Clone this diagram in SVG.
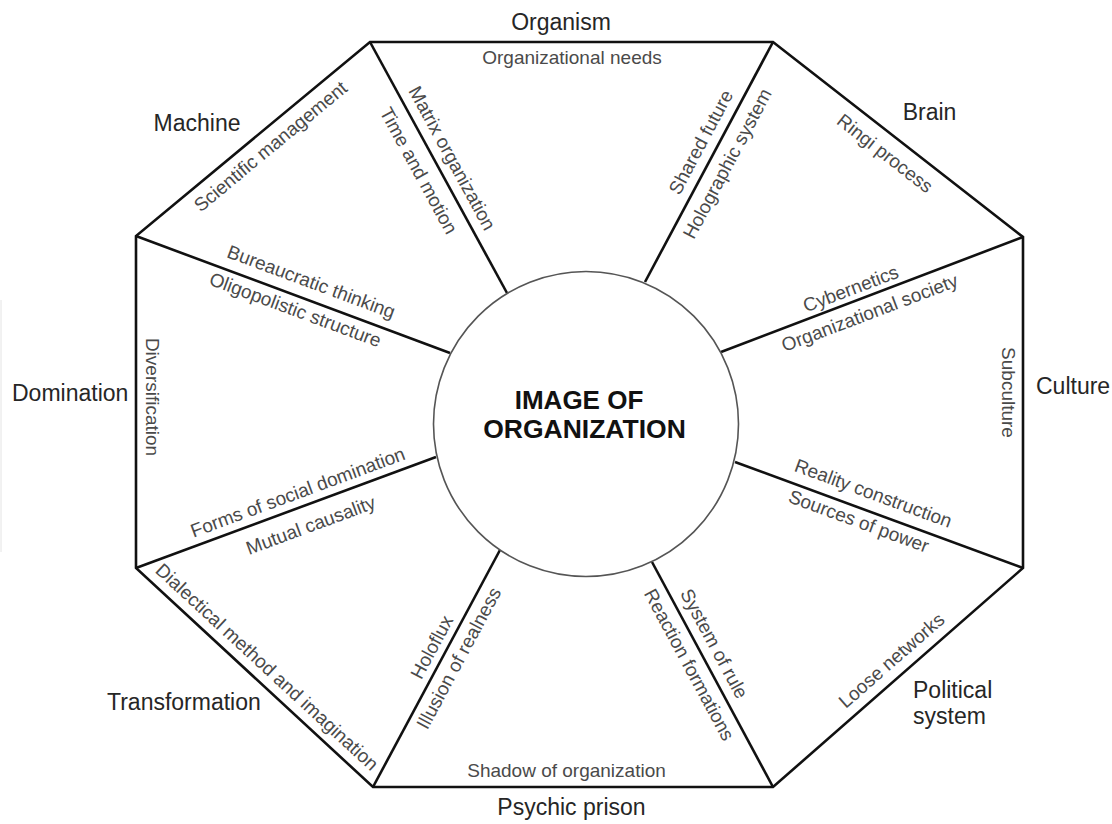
<svg xmlns="http://www.w3.org/2000/svg" width="1112" height="824" viewBox="0 0 1112 824">
<style>
.edge{fill:none;stroke:#111;stroke-width:2.6;stroke-linejoin:miter}
.spoke{stroke:#111;stroke-width:2.6;fill:none}
.outer{font-family:"Liberation Sans",Arial,sans-serif;font-size:23px;fill:#262626}
.inner{font-family:"Liberation Sans",Arial,sans-serif;font-size:19px;fill:#4a4a4a;text-anchor:middle}
.title{font-family:"Liberation Sans",Arial,sans-serif;font-size:26px;font-weight:bold;fill:#111;text-anchor:middle}
</style>
<rect width="1112" height="824" fill="#fff"/>
<line x1="1" y1="300" x2="1" y2="552" stroke="#e4e4e4" stroke-width="1"/>
<g id="frame">
<polygon class="edge" points="370,42 773,42 1023,237 1023,568 773,787 373,787 136,568 136,236"/>
</g>
<g id="connectors">
<line class="spoke" x1="370" y1="42" x2="507" y2="293"/>
<line class="spoke" x1="773" y1="42" x2="645" y2="282"/>
<line class="spoke" x1="1023" y1="237" x2="721" y2="352"/>
<line class="spoke" x1="1023" y1="568" x2="735" y2="462"/>
<line class="spoke" x1="773" y1="787" x2="652" y2="562"/>
<line class="spoke" x1="373" y1="787" x2="500" y2="550"/>
<line class="spoke" x1="136" y1="568" x2="436" y2="457"/>
<line class="spoke" x1="136" y1="236" x2="450" y2="353"/>
</g>
<g id="center">
<circle cx="586" cy="424" r="152.5" fill="#fff" stroke="#555" stroke-width="1.6"/>
<text class="title" x="579" y="409">IMAGE OF</text>
<text class="title" x="584.5" y="438" style="font-size:26.5px">ORGANIZATION</text>
</g>
<g id="organism">
<text class="outer" x="561" y="30" text-anchor="middle">Organism</text>
<text class="inner" x="572" y="58" dy="0.3em">Organizational needs</text>
</g>
<g id="machine">
<text class="outer" x="197" y="131" text-anchor="middle">Machine</text>
<text class="inner" transform="translate(271,147) rotate(-39.66)" dy="0.3em">Scientific management</text>
<text class="inner" transform="translate(451.5,158.5) rotate(61.4)" dy="0.3em">Matrix organization</text>
<text class="inner" transform="translate(418,171) rotate(61.4)" dy="0.3em">Time and motion</text>
<text class="inner" transform="translate(311,282.5) rotate(20.4)" dy="0.3em">Bureaucratic thinking</text>
</g>
<g id="brain">
<text class="outer" x="929.5" y="120" text-anchor="middle">Brain</text>
<text class="inner" transform="translate(884.5,154) rotate(37.95)" dy="0.3em">Ringi process</text>
<text class="inner" transform="translate(701.5,142.5) rotate(-61.9)" dy="0.3em">Shared future</text>
<text class="inner" transform="translate(728,164) rotate(-61.9)" dy="0.3em">Holographic system</text>
<text class="inner" transform="translate(851,289.5) rotate(-20.75)" dy="0.3em">Cybernetics</text>
</g>
<g id="culture">
<text class="outer" x="1036" y="394">Culture</text>
<text class="inner" transform="translate(1007.5,392.5) rotate(90)" dy="0.3em">Subculture</text>
<text class="inner" transform="translate(870,313.5) rotate(-20.75)" dy="0.3em">Organizational society</text>
<text class="inner" transform="translate(873,494) rotate(20.2)" dy="0.3em">Reality construction</text>
</g>
<g id="political-system">
<text class="outer" x="913" y="698">Political</text>
<text class="outer" x="913" y="724">system</text>
<text class="inner" transform="translate(858.5,522) rotate(20.2)" dy="0.3em">Sources of power</text>
<text class="inner" transform="translate(892,661) rotate(-41.2)" dy="0.3em">Loose networks</text>
<text class="inner" transform="translate(713.5,644) rotate(61.7)" dy="0.3em">System of rule</text>
</g>
<g id="psychic-prison">
<text class="outer" x="571.5" y="815" text-anchor="middle">Psychic prison</text>
<text class="inner" x="566.5" y="771" dy="0.3em">Shadow of organization</text>
<text class="inner" transform="translate(688.5,665) rotate(61.7)" dy="0.3em">Reaction formations</text>
<text class="inner" transform="translate(459.5,658.5) rotate(-61.8)" dy="0.3em">Illusion of realness</text>
</g>
<g id="transformation">
<text class="outer" x="107" y="710">Transformation</text>
<text class="inner" transform="translate(266.5,667.5) rotate(42.7)" dy="0.3em">Dialectical method and imagination</text>
<text class="inner" transform="translate(432.5,647.5) rotate(-61.8)" dy="0.3em">Holoflux</text>
<text class="inner" transform="translate(311,526) rotate(-20.3)" dy="0.3em">Mutual causality</text>
</g>
<g id="domination">
<text class="outer" x="12" y="401">Domination</text>
<text class="inner" transform="translate(152,397) rotate(90)" dy="0.3em">Diversification</text>
<text class="inner" transform="translate(298,493) rotate(-20.3)" dy="0.3em">Forms of social domination</text>
<text class="inner" transform="translate(295,310.5) rotate(20.4)" dy="0.3em">Oligopolistic structure</text>
</g>
</svg>
